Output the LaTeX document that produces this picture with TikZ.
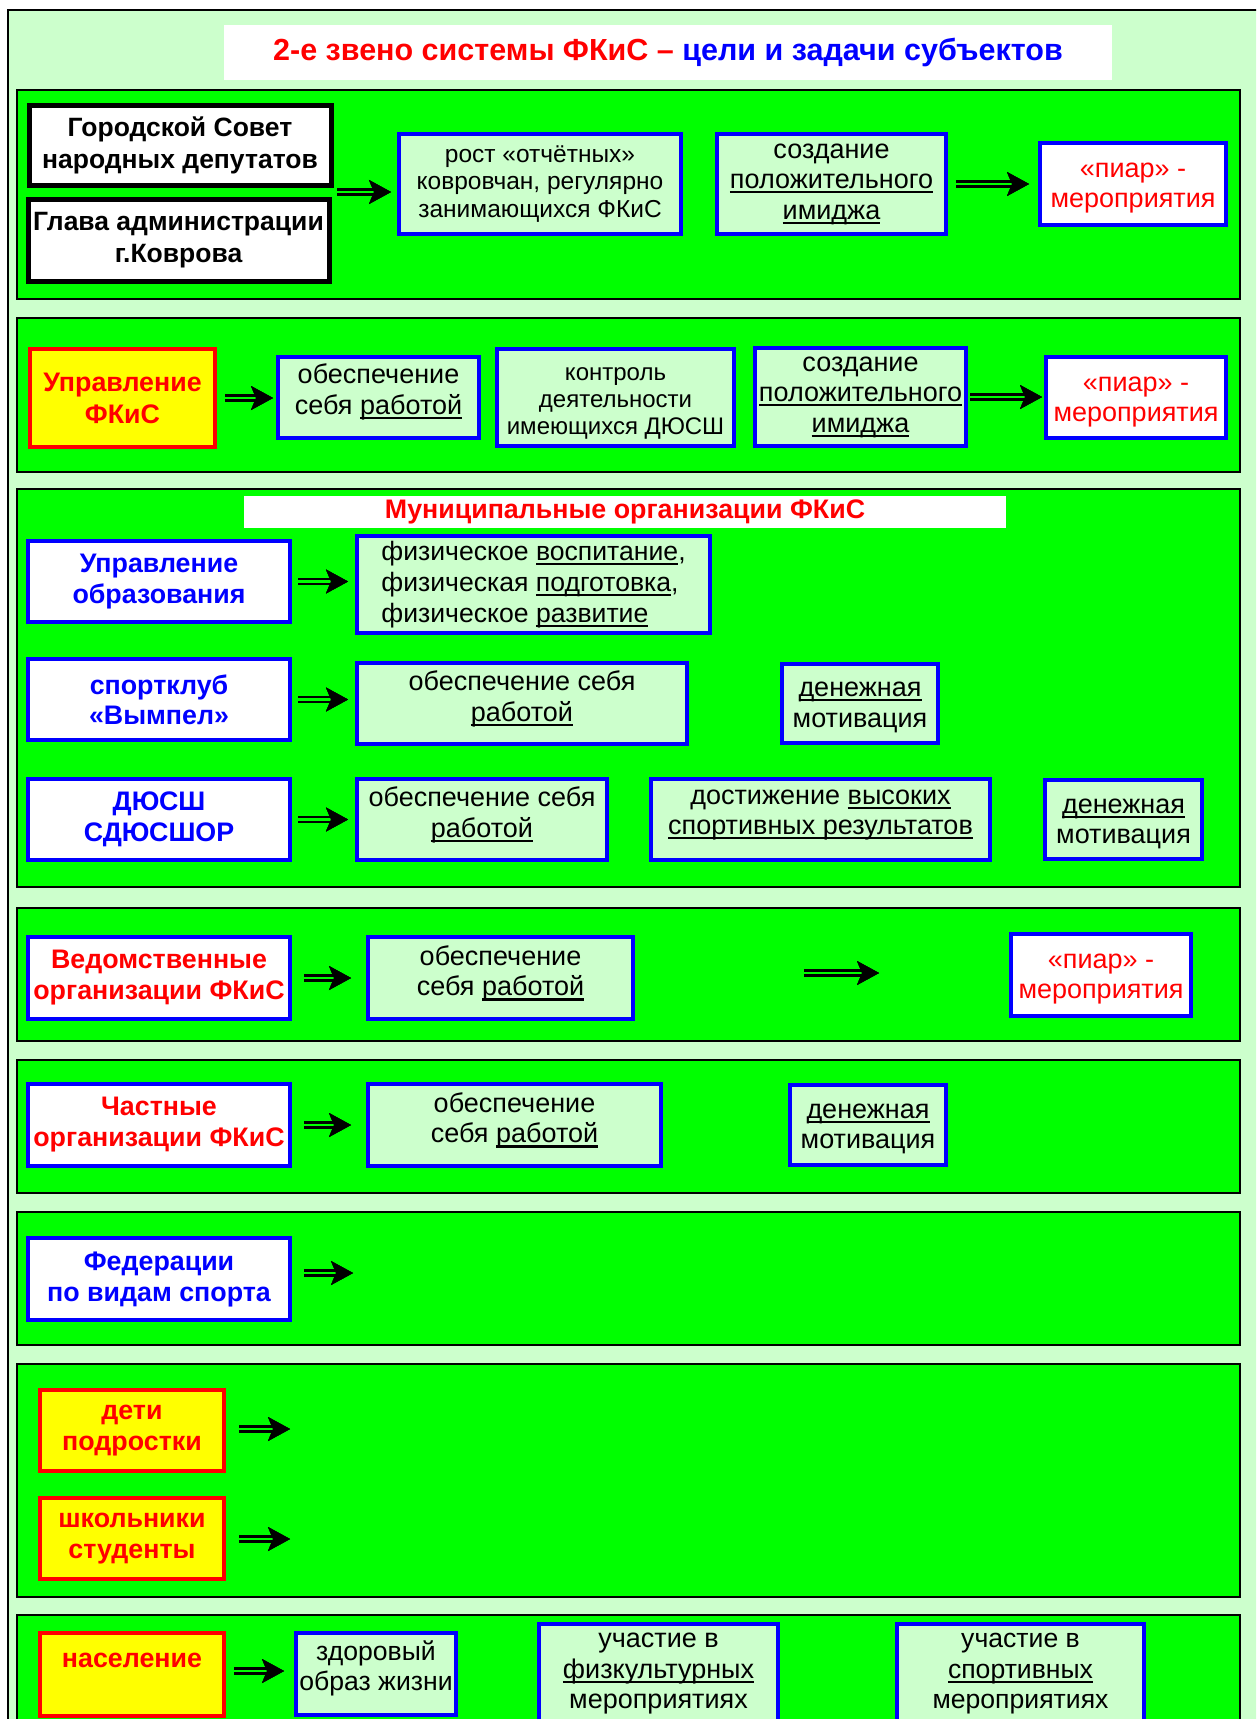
\documentclass[tikz,border=0pt]{standalone}
\usepackage{fontspec}
\setmainfont{Liberation Sans}
\usetikzlibrary{arrows.meta}
\definecolor{bgl}{HTML}{CCFFCC}
\definecolor{sgr}{HTML}{00FF00}
\definecolor{bblue}{HTML}{0000FF}
\definecolor{rred}{HTML}{FF0000}
\definecolor{yel}{HTML}{FFFF00}
\newcommand\ulw[1]{\setbox0=\hbox{#1}\rlap{\rule[-0.17em]{\wd0}{0.08em}}\box0}
\newcommand\fs[2]{\fontsize{#1}{#2}\selectfont}
\tikzset{
  corners/.style n args={4}{at={({(#1+#3)/2},{(#2+#4)/2})},
    minimum width={(#3-#1-4)*1pt}, minimum height={(#4-#2-4)*1pt}},
  base/.style={rectangle, inner sep=0pt, align=center, line width=4pt},
  lbox/.style={base, draw=bblue, fill=bgl, text=black, font=\fs{27}{30.5}},
  wbox/.style={base, draw=bblue, fill=white, font=\fs{26.8}{31}\bfseries},
  pbox/.style={base, draw=bblue, fill=white, text=rred, font=\fs{27}{30}},
  ybox/.style={base, draw=rred, fill=yel, text=rred, font=\fs{26.8}{31}\bfseries},
  kbox/.style={base, draw=black, fill=white, text=black, line width=5pt, font=\fs{26.5}{32}\bfseries},
  sect/.style={draw=black, fill=sgr, line width=2pt},
  dbl/.style={draw=sgr, line width=2.4pt,
    -{Stealth[length=22pt, width=24pt, inset=5pt, color=black, line width=0.1pt]},
    preaction={draw=black, line width=7.4pt}},
}
\begin{document}
\begin{tikzpicture}[x=1pt, y=-1pt]
\useasboundingbox (0,0) rectangle (1256,1719);
\clip (0,0) rectangle (1256,1719);
\fill[white] (0,0) rectangle (1256,1719);
\draw[fill=bgl, line width=2pt] (8,10) rectangle (1275,1740);
% title
\node[fill=white, inner sep=0pt, minimum width=888pt, minimum height=55pt,
      font=\fs{30.5}{34}\bfseries] (title) at (668,52.5)
  {\textcolor{rred}{2-е звено системы ФКиС –} \textcolor{bblue}{цели и задачи субъектов}};

% sections
\draw[sect] (17,90) rectangle (1240,299);
\draw[sect] (17,318) rectangle (1240,472);
\draw[sect] (17,489) rectangle (1240,887);
\draw[sect] (17,908) rectangle (1240,1041);
\draw[sect] (17,1060) rectangle (1240,1193);
\draw[sect] (17,1212) rectangle (1240,1345);
\draw[sect] (17,1364) rectangle (1240,1597);
\draw[sect] (17,1615) rectangle (1240,1745);

% ---- section 1
\node[kbox, corners={27}{103}{333}{187}] (gs) {Городской Совет\\народных депутатов};
\node[kbox, corners={26}{197}{331}{283}] (ga) {Глава администрации\\г.Коврова};
\node[lbox, font=\fs{24.5}{27.5}, corners={397}{132}{683}{236}] (r1) {рост «отчётных»\\ковровчан, регулярно\\занимающихся ФКиС};
\node[lbox, corners={715}{132}{948}{236}] (s1) {создание\\\ulw{положительного}\\\ulw{имиджа}};
\node[pbox, corners={1038}{141}{1228}{227}] (p1) {\mbox{}\\[-8pt]«пиар» -\\мероприятия};
\coordinate (a1s) at (337,192);
\draw[dbl, shorten >=6pt] (a1s) -- (a1s -| r1.west);
\draw[dbl, shorten <=8pt, shorten >=9pt] (s1.east) -- (s1.east -| p1.west);

% ---- section 2
\node[ybox, font=\fs{26.8}{32}\bfseries, corners={28}{347}{217}{449}] (u2) {Управление\\ФКиС};
\node[lbox, corners={276}{355}{481}{440}] (o2) {обеспечение\\себя \ulw{работой}\\[-14pt]\mbox{}};
\node[lbox, font=\fs{24}{27}, corners={495}{347}{736}{448}] (k2) {\mbox{}\\[-2.5pt]контроль\\деятельности\\имеющихся ДЮСШ};
\node[lbox, corners={753}{346}{968}{448}] (s2) {создание\\\ulw{положительного}\\\ulw{имиджа}};
\node[pbox, corners={1044}{355}{1228}{440}] (p2) {\mbox{}\\[-7pt]«пиар» -\\мероприятия};
\draw[dbl, shorten <=8pt, shorten >=3pt] (u2.east) -- (u2.east -| o2.west);
\draw[dbl, shorten <=2pt, shorten >=2pt] (s2.east) -- (s2.east -| p2.west);

% ---- section 3
\node[fill=white, inner sep=0pt, minimum width=762pt, minimum height=32pt, text=rred,
      font=\fs{26.8}{30}\bfseries] (mun) at (625,512) {Муниципальные организации ФКиС};
\node[wbox, text=bblue, corners={26}{539}{292}{624}] (uo) {Управление\\образования};
\node[lbox, align=left, font=\fs{26.6}{31}, corners={355}{534}{712}{635}] (fz)
  {физическое \ulw{воспитание},\\физическая \ulw{подготовка},\\физическое \ulw{развитие}};
\node[wbox, text=bblue, font=\fs{26.8}{30}\bfseries, corners={26}{657}{292}{742}] (sk) {спортклуб\\«Вымпел»};
\node[lbox, corners={355}{661}{689}{746}] (ob3) {обеспечение себя\\\ulw{работой}\\[-16pt]\mbox{}};
\node[lbox, corners={780}{662}{940}{745}] (dm3) {\mbox{}\\[-8pt]\ulw{денежная}\\мотивация};
\node[wbox, text=bblue, font=\fs{26.8}{31}\bfseries, corners={26}{777}{292}{862}] (dy) {ДЮСШ\\СДЮСШОР};
\node[lbox, corners={355}{777}{609}{862}] (ob4) {обеспечение себя\\\ulw{работой}\\[-16pt]\mbox{}};
\node[lbox, corners={649}{777}{992}{862}] (dv) {достижение \ulw{высоких}\\\ulw{спортивных результатов}\\[-16pt]\mbox{}};
\node[lbox, corners={1043}{778}{1204}{861}] (dm4) {\mbox{}\\[-7pt]\ulw{денежная}\\мотивация};
\draw[dbl, shorten <=6pt, shorten >=7pt] (uo.east) -- (uo.east -| fz.west);
\draw[dbl, shorten <=6pt, shorten >=7pt] (sk.east) -- (sk.east -| ob3.west);
\draw[dbl, shorten <=6pt, shorten >=7pt] (dy.east) -- (dy.east -| ob4.west);

% ---- section 4
\node[wbox, text=rred, corners={26}{935}{292}{1021}] (vd) {Ведомственные\\организации ФКиС};
\node[lbox, corners={366}{935}{635}{1021}] (ob5) {обеспечение\\себя \ulw{работой}\\[-16pt]\mbox{}};
\node[pbox, corners={1009}{932}{1193}{1018}] (pr5) {\mbox{}\\[-8pt]«пиар» -\\мероприятия};
\draw[dbl, shorten <=12pt, shorten >=15pt] (vd.east) -- (vd.east -| ob5.west);
\coordinate (m4s) at (804,973);
\coordinate (m4e) at (879,973);
\draw[dbl] (m4s) -- (m4e);

% ---- section 5
\node[wbox, text=rred, corners={26}{1082}{292}{1168}] (ch) {Частные\\организации ФКиС};
\node[lbox, corners={366}{1082}{663}{1168}] (ob6) {обеспечение\\себя \ulw{работой}\\[-16pt]\mbox{}};
\node[lbox, corners={788}{1083}{948}{1167}] (dm6) {\mbox{}\\[-8pt]\ulw{денежная}\\мотивация};
\draw[dbl, shorten <=12pt, shorten >=15pt] (ch.east) -- (ch.east -| ob6.west);

% ---- section 6
\node[wbox, text=bblue, corners={26}{1236}{292}{1322}] (fd) {Федерации\\по видам спорта};
\coordinate (f6e) at (353,1273);
\draw[dbl, shorten <=12pt] (fd.east |- f6e) -- (f6e);

% ---- section 7
\node[ybox, corners={38}{1388}{226}{1473}] (dt) {дети\\подростки};
\node[ybox, corners={38}{1496}{226}{1581}] (sh) {школьники\\студенты};
\coordinate (d7e) at (290,1429);
\coordinate (s7e) at (290,1539);
\draw[dbl, shorten <=13pt] (dt.east |- d7e) -- (d7e);
\draw[dbl, shorten <=13pt] (sh.east |- s7e) -- (s7e);

% ---- section 8
\node[ybox, corners={38}{1631}{226}{1718}] (ns) {население\\[-2pt]\mbox{}};
\node[lbox, font=\fs{26.6}{30}, corners={294}{1631}{458}{1717}] (zd) {здоровый\\образ жизни\\[-14pt]\mbox{}};
\node[lbox, font=\fs{27}{30.5}, corners={537}{1622}{780}{1726}] (uf) {участие в\\\ulw{физкультурных}\\мероприятиях};
\node[lbox, font=\fs{26.6}{30.5}, corners={895}{1622}{1146}{1726}] (us) {участие в\\\ulw{спортивных}\\мероприятиях};
\draw[dbl, shorten <=8pt, shorten >=10pt] (ns.east |- 0,1671) -- (zd.west |- 0,1671);
\end{tikzpicture}
\end{document}
